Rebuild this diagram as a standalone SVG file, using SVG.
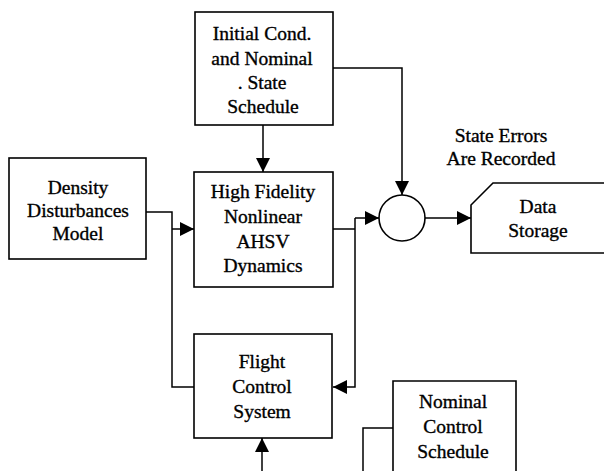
<svg xmlns="http://www.w3.org/2000/svg" width="604" height="471" viewBox="0 0 604 471">
<style>
.box{fill:#fff;stroke:#000;stroke-width:1.6}
.ln{fill:none;stroke:#000;stroke-width:1.5}
text{font-family:"Liberation Serif","Times New Roman",serif;font-size:19.5px;fill:#000;stroke:#000;stroke-width:0.35;text-anchor:middle}
</style>
<defs>
<marker id="ah" markerUnits="userSpaceOnUse" markerWidth="15" markerHeight="15" refX="14" refY="7" orient="auto">
<path d="M0,0 L14,7 L0,14 z" fill="#000"/>
</marker>
</defs>
<rect width="604" height="471" fill="#fff"/>
<g id="connectors">
<path class="ln" d="M263,125 L263,172" marker-end="url(#ah)"/>
<path class="ln" d="M333,68 L402,68 L402,195" marker-end="url(#ah)"/>
<path class="ln" d="M146,212 L172,212 L172,387 L194,387"/>
<path class="ln" d="M172,229 L194,229" marker-end="url(#ah)"/>
<path class="ln" d="M333,229 L355,229"/>
<path class="ln" d="M355,218 L355,387 L333,387" marker-end="url(#ah)"/>
<path class="ln" d="M355,218 L379,218" marker-end="url(#ah)"/>
<path class="ln" d="M425,218 L471,218" marker-end="url(#ah)"/>
<path class="ln" d="M262,471 L262,438" marker-end="url(#ah)"/>
<path class="ln" d="M393,428 L363,428 L363,471"/>
</g>
<g id="initial">
<rect class="box" x="195" y="12" width="138" height="113"/>
<text x="262" y="40">Initial Cond.</text>
<text x="262" y="65">and Nominal</text>
<text x="262" y="89">. State</text>
<text x="263" y="113">Schedule</text>
</g>
<g id="density">
<rect class="box" x="9" y="158" width="137" height="101"/>
<text x="78" y="194">Density</text>
<text x="78" y="217">Disturbances</text>
<text x="78" y="240">Model</text>
</g>
<g id="hifi">
<rect class="box" x="194" y="172" width="139" height="115"/>
<text x="263" y="198">High Fidelity</text>
<text x="263" y="223">Nonlinear</text>
<text x="263" y="248">AHSV</text>
<text x="263" y="272">Dynamics</text>
</g>
<g id="sum">
<circle class="box" cx="402" cy="218" r="23"/>
</g>
<g id="state-errors-label">
<text x="501" y="142">State Errors</text>
<text x="501" y="165">Are Recorded</text>
</g>
<g id="storage">
<path class="box" d="M604,183 L493,183 L471,205 L471,253 L604,253"/>
<text x="538" y="213">Data</text>
<text x="538" y="237">Storage</text>
</g>
<g id="fcs">
<rect class="box" x="194" y="334" width="138" height="104"/>
<text x="262" y="368">Flight</text>
<text x="262" y="393">Control</text>
<text x="262" y="418">System</text>
</g>
<g id="nominal-control">
<path class="box" d="M393,471 L393,381 L516,381 L516,471"/>
<text x="453" y="408">Nominal</text>
<text x="453" y="433">Control</text>
<text x="453" y="458">Schedule</text>
</g>
</svg>
